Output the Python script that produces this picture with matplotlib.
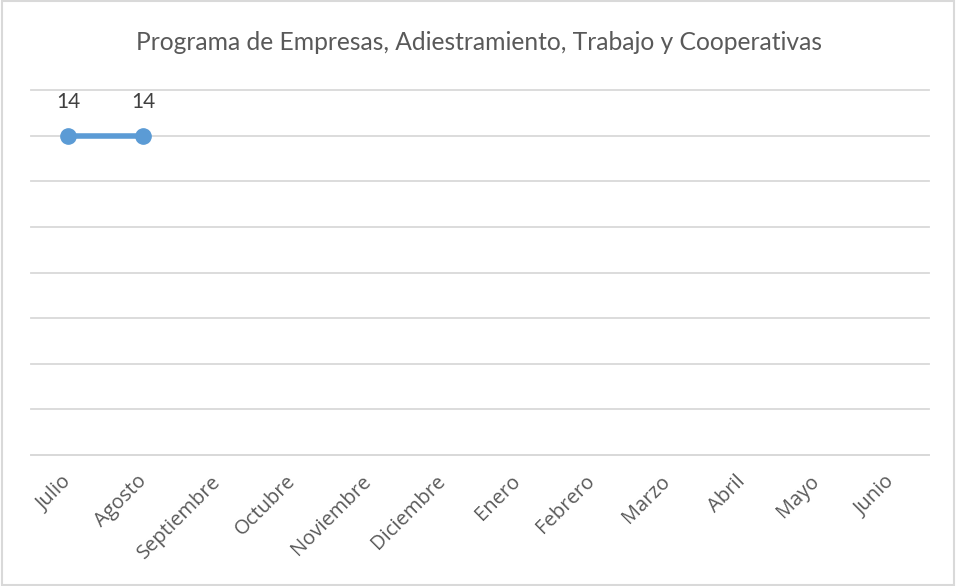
import matplotlib
matplotlib.use("Agg")
import matplotlib.pyplot as plt
from matplotlib.patches import Rectangle
import numpy as np

months = ["Julio", "Agosto", "Septiembre", "Octubre", "Noviembre", "Diciembre",
          "Enero", "Febrero", "Marzo", "Abril", "Mayo", "Junio"]
values = [14, 14, None, None, None, None, None, None, None, None, None, None]
title = "Programa de Empresas, Adiestramiento, Trabajo y Cooperativas"

plt.rcParams['font.family'] = ['Open Sans', 'DejaVu Sans']

fig = plt.figure(figsize=(9.56, 5.86), dpi=100)
ax = fig.add_axes([31/956, 1-455/586, (929-31)/956, (455-90)/586])

x = np.arange(len(months))
y = np.array([np.nan if v is None else v for v in values], dtype=float)
ax.plot(x, y, color="#5B9BD5", lw=4, marker="o", markersize=11,
        solid_capstyle="round", zorder=3)
for xi, yi in zip(x, y):
    if not np.isnan(yi):
        ax.annotate(f"{int(yi)}", (xi, yi), xytext=(0, 17), textcoords="offset points",
                    ha="center", va="bottom", fontsize=15, color="#404040",
                    family=["Lato", "DejaVu Sans"])

ax.set_xlim(-0.5, len(months) - 0.5)
ax.set_ylim(0, 16)
ax.set_yticks(np.arange(0, 17, 2))
ax.yaxis.grid(True, color="#D9D9D9", lw=1.3)
for gl in ax.get_ygridlines():
    gl.set_clip_on(False)
ax.set_axisbelow(True)
ax.tick_params(axis="y", left=False, labelleft=False)
ax.tick_params(axis="x", length=0, pad=17)
ax.set_xticks(x)
ax.set_xticklabels(months, rotation=45, ha="right", va="center", rotation_mode="anchor",
                   fontsize=14.5, color="#595959")
for s in ["top", "right", "left"]:
    ax.spines[s].set_visible(False)
ax.spines["bottom"].set_color("#D9D9D9")
ax.spines["bottom"].set_linewidth(1.3)

fig.text(479/956, 1-42/586, title, ha="center", va="center", fontsize=17.7,
         color="#595959", family=["Lato", "DejaVu Sans"])
fig.patches.append(Rectangle((0.002, 0.002), 0.996, 0.996, transform=fig.transFigure,
                             fill=False, edgecolor="#D9D9D9", lw=1.5))
fig.savefig("out.png", dpi=100)
